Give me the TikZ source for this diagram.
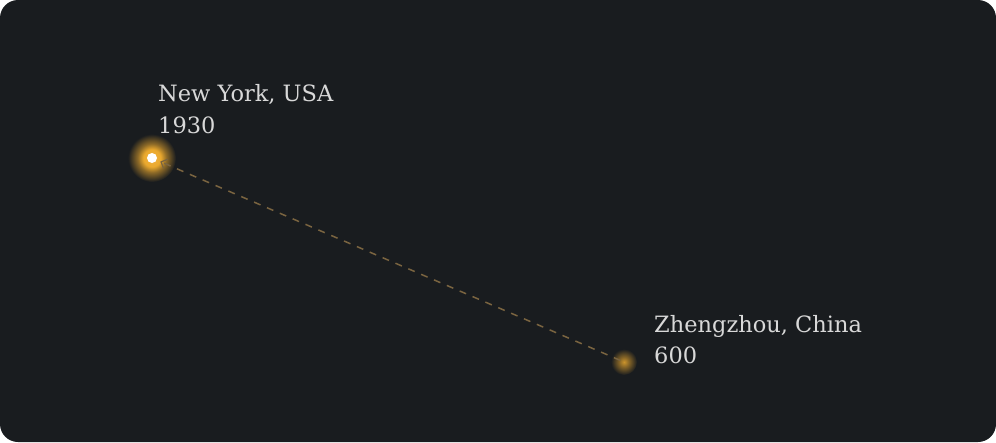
\documentclass[tikz,border=0pt]{standalone}
\usepackage{fontspec}
\setmainfont{DejaVu Serif}
\usetikzlibrary{arrows.meta}
\definecolor{bg}{HTML}{191C1F}
\definecolor{glow}{HTML}{EBA92E}
\definecolor{txt}{HTML}{D8D8D8}
\definecolor{dash}{HTML}{7A6440}
\pgfdeclareradialshading{nyglow}{\pgfpoint{0bp}{0bp}}{color(0bp)=(glow!90!white); color(9bp)=(glow); color(15bp)=(glow!55!bg); color(25bp)=(bg); color(50bp)=(bg)}
\pgfdeclareradialshading{zzglow}{\pgfpoint{0bp}{0bp}}{color(0bp)=(glow!85!bg); color(10bp)=(glow!50!bg); color(25bp)=(bg); color(50bp)=(bg)}
\tikzset{
  label/.style={anchor=base west, inner sep=0pt, text=txt, font=\fontsize{22.5}{32}\selectfont},
  route/.style={draw=dash, line width=1.5pt, dash pattern=on 7pt off 7pt, shorten >=9pt, shorten <=4pt,
    -{Straight Barb[length=5pt,width=10pt,line width=1.2pt]}},
}
\begin{document}
\begin{tikzpicture}[x=1pt,y=-1pt]
\useasboundingbox (0,0) rectangle (996,442);
\fill[white] (0,0) rectangle (996,442);
\fill[bg, rounded corners=18pt] (0,0) rectangle (996,442);
% points
\coordinate (ny) at (152,158);
\coordinate (zz) at (624,362);
\shade[shading=zzglow] (zz) circle (13);
\shade[shading=nyglow] (ny) circle (24);
\draw[route] (zz) -- (ny);
\fill[white] (ny) circle (5);
% labels
\node[label] (nyname) at (158,101) {New York, USA};
\node[label] (nyyear) at (158,133) {1930};
\node[label] (zzname) at (654,332) {Zhengzhou, China};
\node[label] (zzyear) at (654,363) {600};
\end{tikzpicture}
\end{document}
